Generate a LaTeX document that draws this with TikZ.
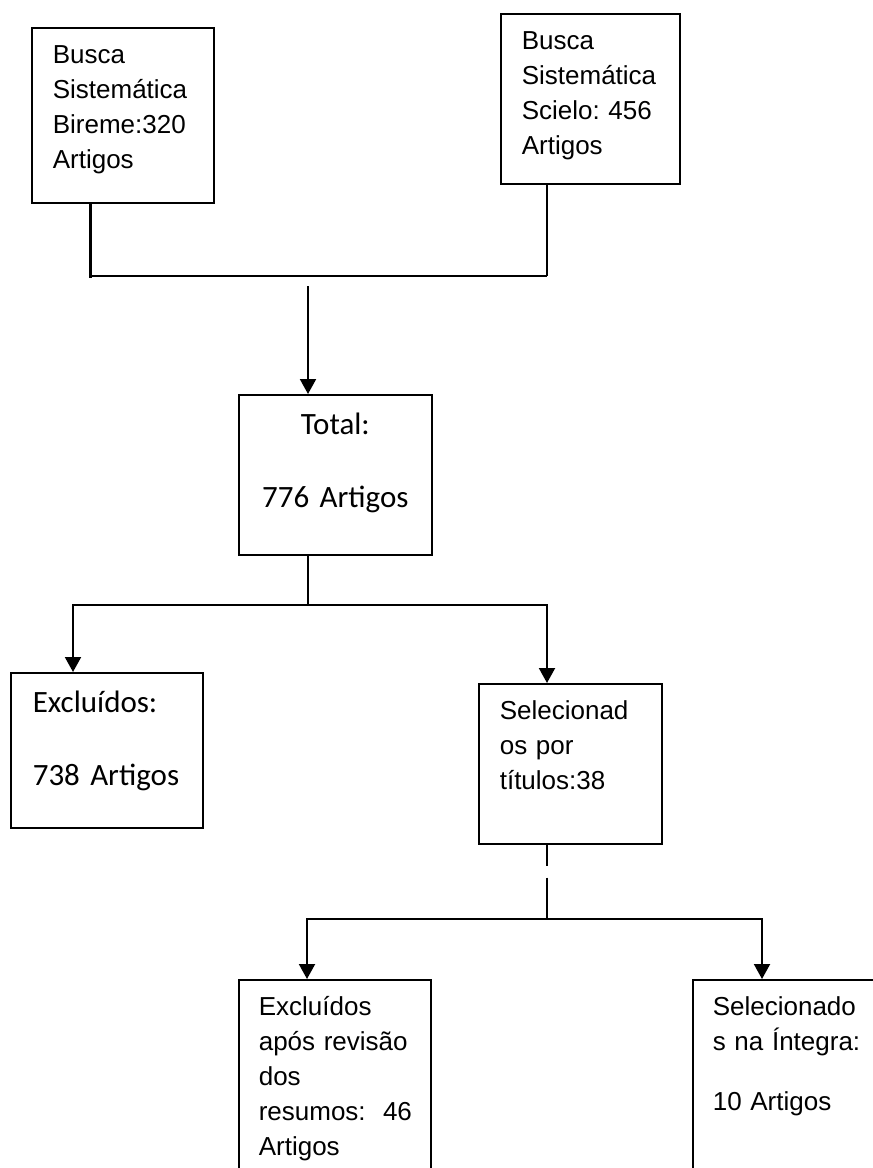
\documentclass[tikz,border=0pt]{standalone}
\usepackage{fontspec}
\setmainfont{Liberation Sans}
\newfontfamily\calibri{Carlito}
\usepackage{tikz}
\usetikzlibrary{arrows.meta}
\frenchspacing
\tikzset{
  caixa/.style={
    draw, line width=1.6pt, anchor=north west, align=left,
    inner xsep=21pt, inner ysep=0pt, text height=36pt,
    font=\fontsize{26}{35}\selectfont
  },
  caixaC/.style={caixa,text height=40pt,font={\calibri\fontsize{31}{38}\selectfont}},
  linha/.style={line width=2pt},
  arr/.style={linha,-{Triangle[length=15pt,width=16pt]}}
}
\begin{document}
\begin{tikzpicture}[x=1pt,y=-1pt]
  \useasboundingbox (0,0) rectangle (873,1168);
  \fill[white] (0,0) rectangle (873,1168);
  \clip (0,0) rectangle (873,1168);
  \node[caixa,text width=140pt,text depth=139pt] (bireme) at (31,27) {Busca\\Sistemática\\Bireme:320\\Artigos};
  \node[caixa,text width=137pt,text depth=134pt] (scielo) at (500,13) {Busca\\Sistemática\\Scielo: 456\\Artigos};
  \node[caixaC,align=center,text width=151pt,text depth=120pt] (total) at (238,394) {Total:\\[35pt]776 Artigos};
  \node[caixaC,text width=148pt,inner xsep=22pt,text depth=115pt] (excl) at (10,672) {Excluídos:\\[35pt]738 Artigos};
  \node[caixa,text width=141pt,text depth=124pt] (selt) at (478,683) {Selecionad\\os por\\títulos:38};
  \node[caixa,text width=152pt,inner xsep=20pt,text depth=200pt] (exclr) at (238,979) {Excluídos\\após revisão\\dos\\resumos:~~46\\Artigos};
  \node[caixa,text width=160pt,inner xsep=20pt,text depth=200pt] (seli) at (692,979) {Selecionado\\s na Íntegra:\\[25pt]10 Artigos};
  \coordinate (juncE) at (90,276);
  \coordinate (juncD) at (547,276);
  \coordinate (setaIni) at (308,286);
  \coordinate (divM) at (308,605);
  \coordinate (divE) at (73,605);
  \coordinate (divD) at (547,605);
  \coordinate (div2M) at (547,919);
  \coordinate (div2E) at (307,919);
  \coordinate (div2D) at (762,919);
  \draw[line width=3pt,line cap=rect] (bireme.south -| juncE) -- (juncE);
  \draw[linha] (juncE) -- (juncD);
  \draw[line width=1.4pt] (scielo.south -| juncD) -- (juncD);
  \draw[arr] (setaIni) -- (total.north -| setaIni);
  \draw[linha] (total.south -| divM) -- (divM);
  \draw[arr] (divM) -| (excl.north -| divE);
  \draw[arr] (divM) -| (selt.north -| divD);
  \draw[linha,dash pattern=on 21pt off 12pt on 60pt] (selt.south -| div2M) -- (div2M);
  \draw[arr] (div2M) -| (exclr.north -| div2E);
  \draw[arr] (div2M) -| (seli.north -| div2D);
\end{tikzpicture}
\end{document}
